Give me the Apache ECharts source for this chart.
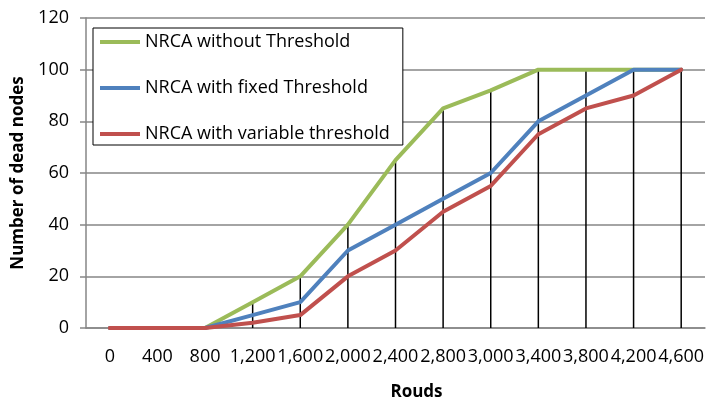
<!DOCTYPE html>
<html>
<head>
<meta charset="utf-8">
<script src="https://cdn.jsdelivr.net/npm/echarts@6/dist/echarts.min.js"></script>
<style>
  html, body { margin: 0; padding: 0; background: #fff; }
  #chart { width: 712px; height: 402px; }
</style>
</head>
<body>
<div id="chart"></div>
<script>
// Rounds (x categories)
const rounds = ['0', '400', '800', '1,200', '1,600', '2,000', '2,400', '2,800', '3,000', '3,400', '3,800', '4,200', '4,600'];
// Dead nodes per series
const withoutThreshold = [0, 0, 0, 10, 20, 40, 65, 85, 92, 100, 100, 100, 100];
const fixedThreshold   = [0, 0, 0, 5, 10, 30, 40, 50, 60, 80, 90, 100, 100];
const variableThreshold = [0, 0, 0, 2, 5, 20, 30, 45, 55, 75, 85, 90, 100];
// Y ticks
const yMin = 0, yMax = 120, yStep = 20;

// Drop lines reach the highest series value in each category
const dropHeights = rounds.map((_, i) =>
  Math.max(withoutThreshold[i], fixedThreshold[i], variableThreshold[i]));

const FONT = 'Open Sans';
const chart = echarts.init(document.getElementById('chart'), null, { renderer: 'canvas' });

const lineSeries = (name, data, color) => ({
  name, type: 'line', data,
  symbol: 'none',
  lineStyle: { color, width: 4, cap: 'round', join: 'round' },
  itemStyle: { color },
  z: 3
});

chart.setOption({
  animation: false,
  textStyle: { fontFamily: FONT },
  grid: { left: 86, right: 7, top: 18, bottom: 74, outerBoundsMode: 'none', containLabel: false },
  legend: {
    orient: 'vertical',
    left: 93, top: 28,
    padding: [4, 13, 1, 7],
    itemGap: 26,
    itemWidth: 40, itemHeight: 4,
    icon: 'rect',
    borderColor: '#000', borderWidth: 1,
    backgroundColor: '#fff',
    textStyle: { fontFamily: FONT, fontSize: 18, color: '#000', lineHeight: 20 },
    data: ['NRCA without Threshold', 'NRCA with fixed Threshold', 'NRCA with variable threshold']
  },
  xAxis: {
    type: 'category',
    data: rounds,
    boundaryGap: true,
    name: 'Rouds',
    nameLocation: 'middle',
    nameGap: 56,
    nameTextStyle: { fontFamily: FONT, fontSize: 17, fontWeight: 'bold', color: '#000', padding: [0, 0, 0, 42] },
    axisLine: { lineStyle: { color: '#868686', width: 1.5 } },
    axisTick: { show: false },
    axisLabel: { color: '#000', fontSize: 18, fontFamily: FONT, margin: 20, interval: 0, hideOverlap: false },
    splitLine: { show: false }
  },
  yAxis: {
    type: 'value',
    min: yMin, max: yMax, interval: yStep,
    name: 'Number of dead nodes',
    nameLocation: 'middle',
    nameGap: 59,
    nameTextStyle: { fontFamily: FONT, fontSize: 17, fontWeight: 'bold', color: '#000' },
    axisLine: { show: true, lineStyle: { color: '#868686', width: 1.5 } },
    axisTick: { show: true, length: 6, lineStyle: { color: '#868686', width: 1.5 } },
    axisLabel: { color: '#000', fontSize: 18, fontFamily: FONT, margin: 17 },
    splitLine: { lineStyle: { color: '#868686', width: 1.5 } }
  },
  series: [
    {
      name: 'drop lines', type: 'bar', data: dropHeights,
      barWidth: 1.5,
      itemStyle: { color: '#000' },
      silent: true,
      z: 2
    },
    lineSeries('NRCA without Threshold', withoutThreshold, '#9BBB59'),
    lineSeries('NRCA with fixed Threshold', fixedThreshold, '#4F81BD'),
    lineSeries('NRCA with variable threshold', variableThreshold, '#C0504D')
  ]
});
</script>
</body>
</html>
